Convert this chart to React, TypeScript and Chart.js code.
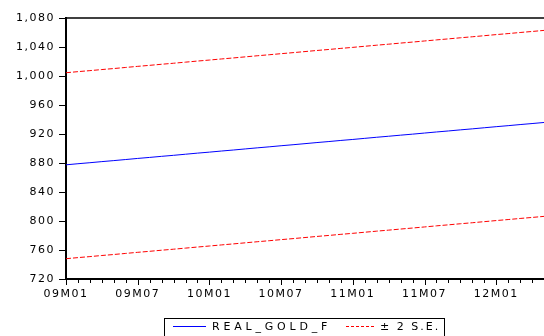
import React, { useEffect, useRef } from "react";
import { Chart, registerables } from "chart.js";

Chart.register(...registerables);

const months: string[] = [
  "09M01", "09M02", "09M03", "09M04", "09M05", "09M06", "09M07", "09M08", "09M09", "09M10", "09M11", "09M12",
  "10M01", "10M02", "10M03", "10M04", "10M05", "10M06", "10M07", "10M08", "10M09", "10M10", "10M11", "10M12",
  "11M01", "11M02", "11M03", "11M04", "11M05", "11M06", "11M07", "11M08", "11M09", "11M10", "11M11", "11M12",
  "12M01", "12M02", "12M03", "12M04", "12M05",
];

const realGoldF: number[] = [
  877.5, 879.0, 880.4, 881.9, 883.3, 884.8, 886.3, 887.7, 889.2, 890.6, 892.1, 893.6,
  895.0, 896.5, 897.9, 899.4, 900.9, 902.3, 903.8, 905.2, 906.7, 908.2, 909.6, 911.1,
  912.5, 914.0, 915.5, 916.9, 918.4, 919.8, 921.3, 922.8, 924.2, 925.7, 927.1, 928.6,
  930.1, 931.5, 933.0, 934.4, 935.9,
];

const upperBand: number[] = [
  1004.5, 1006.0, 1007.4, 1008.9, 1010.3, 1011.8, 1013.3, 1014.7, 1016.2, 1017.6, 1019.1, 1020.6,
  1022.0, 1023.5, 1024.9, 1026.4, 1027.9, 1029.3, 1030.8, 1032.2, 1033.7, 1035.2, 1036.6, 1038.1,
  1039.5, 1041.0, 1042.5, 1043.9, 1045.4, 1046.8, 1048.3, 1049.8, 1051.2, 1052.7, 1054.1, 1055.6,
  1057.1, 1058.5, 1060.0, 1061.4, 1062.9,
];

const lowerBand: number[] = [
  748.0, 749.5, 750.9, 752.4, 753.8, 755.3, 756.8, 758.2, 759.7, 761.1, 762.6, 764.1,
  765.5, 767.0, 768.4, 769.9, 771.4, 772.8, 774.3, 775.7, 777.2, 778.7, 780.1, 781.6,
  783.0, 784.5, 786.0, 787.4, 788.9, 790.3, 791.8, 793.3, 794.7, 796.2, 797.6, 799.1,
  800.6, 802.0, 803.5, 804.9, 806.4,
];

const majorLabels: string[] = ["09M01", "09M07", "10M01", "10M07", "11M01", "11M07", "12M01"];
const yMin = 720;
const yMax = 1080;
const yStep = 40;

const FONT = "'DejaVu Sans', Verdana, sans-serif";
const SPACING = "1.5px";

const spacingPlugin = {
  id: "spacing",
  beforeUpdate(chart: any) {
    chart.ctx.letterSpacing = SPACING;
  },
  beforeLayout(chart: any) {
    chart.ctx.letterSpacing = SPACING;
  },
  beforeDraw(chart: any) {
    chart.ctx.letterSpacing = SPACING;
  },
};

const framePlugin = {
  id: "frame",
  afterDraw(chart: any) {
    const ctx = chart.ctx;
    const { left, right, top, bottom } = chart.chartArea;
    const xs = chart.scales.x;
    const ys = chart.scales.y;
    ctx.save();
    ctx.strokeStyle = "#000";
    ctx.lineWidth = 1.5;
    ctx.beginPath();
    ctx.moveTo(left, top);
    ctx.lineTo(right, top);
    ctx.stroke();
    ctx.lineWidth = 1;
    for (let i = 0; i < months.length; i++) {
      const px = Math.round(xs.getPixelForValue(i)) + 0.5;
      const len = majorLabels.includes(months[i]) ? 6 : 4;
      ctx.beginPath();
      ctx.moveTo(px, bottom);
      ctx.lineTo(px, bottom + len);
      ctx.stroke();
    }
    for (let v = yMin; v <= yMax; v += yStep) {
      const py = Math.round(ys.getPixelForValue(v)) + 0.5;
      ctx.beginPath();
      ctx.moveTo(left - 7, py);
      ctx.lineTo(left, py);
      ctx.stroke();
    }
    ctx.restore();
  },
};

export default function App() {
  const canvasRef = useRef<HTMLCanvasElement | null>(null);

  useEffect(() => {
    const canvas = canvasRef.current;
    if (!canvas) return;
    const chart = new Chart(canvas, {
      type: "line",
      data: {
        labels: months,
        datasets: [
          {
            label: "REAL_GOLD_F",
            data: realGoldF,
            borderColor: "#0000ff",
            borderWidth: 1,
            pointRadius: 0,
            fill: false,
            tension: 0,
          },
          {
            label: "± 2 S.E.",
            data: upperBand,
            borderColor: "#ff0000",
            borderWidth: 1,
            borderDash: [5, 2],
            pointRadius: 0,
            fill: false,
            tension: 0,
          },
          {
            label: "± 2 S.E. lower",
            data: lowerBand,
            borderColor: "#ff0000",
            borderWidth: 1,
            borderDash: [5, 2],
            pointRadius: 0,
            fill: false,
            tension: 0,
          },
        ],
      },
      options: {
        animation: false,
        responsive: false,
        maintainAspectRatio: false,
        layout: { padding: { top: 18, right: 0, left: 0, bottom: 0 } },
        plugins: {
          legend: { display: false },
          tooltip: { enabled: false },
        },
        scales: {
          x: {
            type: "category",
            offset: false,
            grid: { display: false, drawTicks: false },
            border: { display: true, color: "#000", width: 2 },
            ticks: {
              autoSkip: false,
              maxRotation: 0,
              minRotation: 0,
              padding: 9,
              color: "#000",
              font: { family: FONT, size: 11 },
              callback: (_v: any, i: number) => (majorLabels.includes(months[i]) ? months[i] : ""),
            },
            afterFit: (s: any) => {
              s.height = 57;
              s.paddingRight = 0;
              s.paddingLeft = 0;
            },
          },
          y: {
            min: yMin,
            max: yMax,
            grid: { display: false, drawTicks: false },
            border: { display: true, color: "#000", width: 2 },
            ticks: {
              stepSize: yStep,
              padding: 11,
              color: "#000",
              font: { family: FONT, size: 11 },
              callback: (v: any) => Number(v).toLocaleString("en-US"),
            },
            afterFit: (s: any) => {
              s.width = 66;
            },
          },
        },
      },
      plugins: [spacingPlugin, framePlugin],
    });
    return () => chart.destroy();
  }, []);

  const textStyle: React.CSSProperties = {
    position: "absolute",
    fontFamily: FONT,
    fontSize: 11,
    letterSpacing: "2px",
    color: "#000",
    lineHeight: "11px",
    whiteSpace: "nowrap",
  };

  return (
    <div
      style={{
        position: "fixed",
        left: 0,
        top: 0,
        width: 544,
        height: 336,
        overflow: "hidden",
        background: "#fff",
      }}
    >
      <canvas ref={canvasRef} width={544} height={336} style={{ position: "absolute", left: 0, top: 0 }} />
      <div
        style={{
          position: "absolute",
          left: 164,
          top: 318,
          width: 281,
          height: 30,
          border: "1px solid #000",
          boxSizing: "border-box",
        }}
      >
        <div style={{ position: "absolute", left: 8, top: 7, width: 33, height: 0, borderTop: "1px solid #0000ff" }} />
        <div style={{ ...textStyle, left: 47, top: 2, letterSpacing: "3.8px" }}>REAL_GOLD_F</div>
        <div style={{ position: "absolute", left: 181, top: 7, width: 28, height: 0, borderTop: "1px dashed #ff0000" }} />
        <div style={{ ...textStyle, left: 215, top: 2 }}>± 2 S.E.</div>
      </div>
    </div>
  );
}
